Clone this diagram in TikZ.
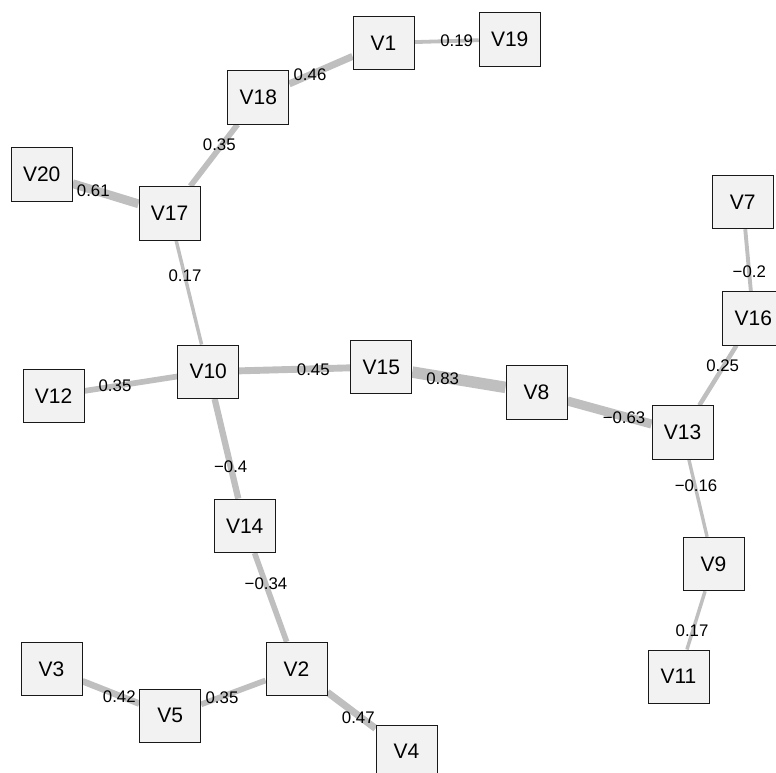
\documentclass[tikz,border=0pt]{standalone}
\usepackage{fontspec}
\setmainfont{Liberation Sans}
\usetikzlibrary{backgrounds}
\definecolor{edgegray}{HTML}{BFBFBF}
\definecolor{nodefill}{HTML}{F2F2F2}
\tikzset{
  vbox/.style={draw=black!90, fill=nodefill, line width=0.9pt, minimum width=61pt, minimum height=53.5pt, inner sep=0pt, font=\fontsize{21}{25}\selectfont},
  edge/.style={draw=edgegray, line cap=butt},
  elab/.style={inner sep=0pt, font=\fontsize{16.8}{20}\selectfont, text=black}
}
\begin{document}
\begin{tikzpicture}[x=1pt, y=-1pt]
\useasboundingbox (0,0) rectangle (776,773);
\node[vbox] (V1) at (383.5,43) {V1};
\node[vbox] (V19) at (509.7,39.3) {V19};
\node[vbox] (V18) at (258.3,97.3) {V18};
\node[vbox] (V17) at (169.5,213.3) {V17};
\node[vbox] (V20) at (41.7,174.2) {V20};
\node[vbox] (V7) at (742.8,202) {V7};
\node[vbox] (V16) at (753.3,318.3) {V16};
\node[vbox] (V10) at (208.2,371.7) {V10};
\node[vbox] (V12) at (53.5,395.7) {V12};
\node[vbox] (V15) at (381.3,367) {V15};
\node[vbox] (V8) at (536.5,392.5) {V8};
\node[vbox] (V13) at (682.5,432.5) {V13};
\node[vbox] (V14) at (244.7,525.8) {V14};
\node[vbox] (V9) at (713.5,564) {V9};
\node[vbox] (V11) at (678.5,676.7) {V11};
\node[vbox] (V3) at (51.5,669) {V3};
\node[vbox] (V5) at (170.2,715.8) {V5};
\node[vbox] (V2) at (296.5,669) {V2};
\node[vbox] (V4) at (406.5,751.7) {V4};
\begin{scope}[on background layer]
\draw[edge, line width=3.8pt] (V1) -- (V19);
\draw[edge, line width=7.0pt] (V18) -- (V1);
\draw[edge, line width=5.7pt] (V17) -- (V18);
\draw[edge, line width=8.8pt] (V20) -- (V17);
\draw[edge, line width=3.5pt] (V17) -- (V10);
\draw[edge, line width=5.7pt] (V12) -- (V10);
\draw[edge, line width=6.9pt] (V10) -- (V15);
\draw[edge, line width=11.5pt] (V15) -- (V8);
\draw[edge, line width=9.1pt] (V8) -- (V13);
\draw[edge, line width=3.9pt] (V7) -- (V16);
\draw[edge, line width=4.5pt] (V16) -- (V13);
\draw[edge, line width=3.4pt] (V13) -- (V9);
\draw[edge, line width=3.5pt] (V9) -- (V11);
\draw[edge, line width=6.3pt] (V10) -- (V14);
\draw[edge, line width=5.6pt] (V14) -- (V2);
\draw[edge, line width=6.5pt] (V3) -- (V5);
\draw[edge, line width=5.7pt] (V5) -- (V2);
\draw[edge, line width=7.1pt] (V2) -- (V4);
\end{scope}
\node[elab] (L1) at (456.7,40.7) {0.19};
\node[elab] (L2) at (310,75) {0.46};
\node[elab] (L3) at (219.3,145) {0.35};
\node[elab] (L4) at (93.3,191) {0.61};
\node[elab] (L5) at (185,276) {0.17};
\node[elab] (L6) at (115,386) {0.35};
\node[elab] (L7) at (313.3,369.3) {0.45};
\node[elab] (L8) at (442.7,378.3) {0.83};
\node[elab] (L9) at (624,417.3) {−0.63};
\node[elab] (L10) at (749.3,271.7) {−0.2};
\node[elab] (L11) at (722.7,366) {0.25};
\node[elab] (L12) at (696,486) {−0.16};
\node[elab] (L13) at (692,630.7) {0.17};
\node[elab] (L14) at (230.7,466.7) {−0.4};
\node[elab] (L15) at (266,583.3) {−0.34};
\node[elab] (L16) at (119.3,696.7) {0.42};
\node[elab] (L17) at (222,697.3) {0.35};
\node[elab] (L18) at (358.3,717.3) {0.47};
\end{tikzpicture}
\end{document}
